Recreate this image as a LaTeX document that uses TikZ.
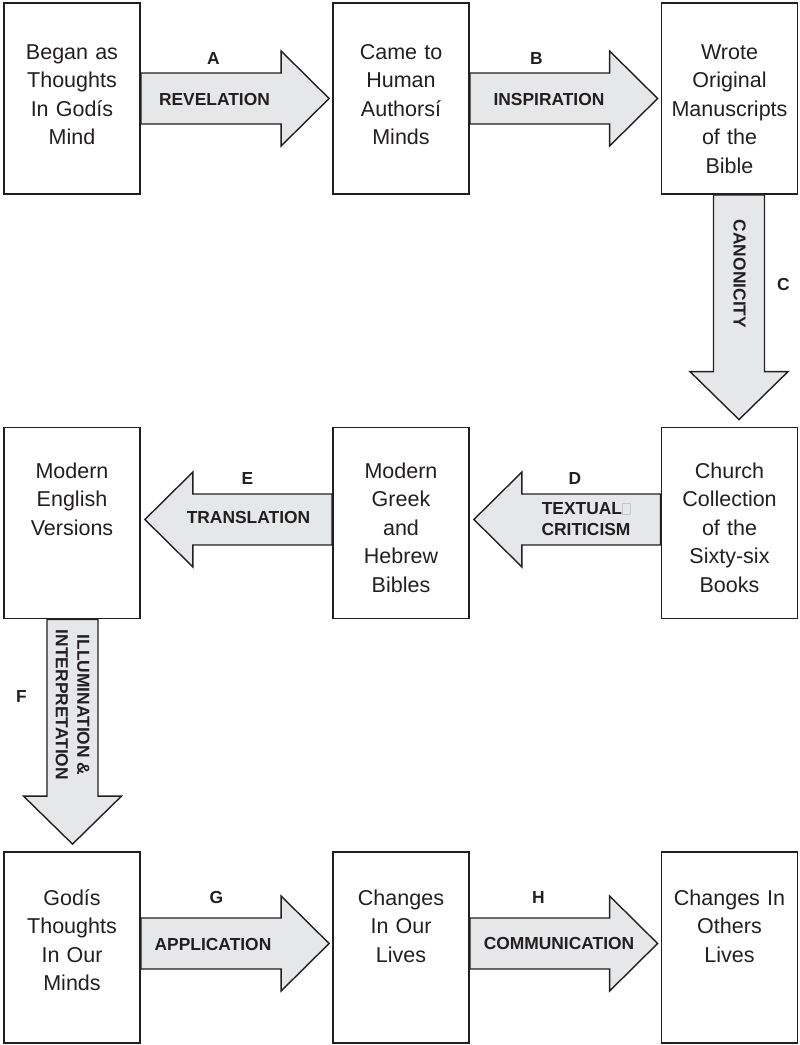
\documentclass[tikz,border=0pt]{standalone}
\usepackage{fontspec}
\setmainfont{Liberation Sans}
\usetikzlibrary{calc,backgrounds}
\definecolor{inkdark}{RGB}{35,31,32}
\definecolor{arrowfill}{RGB}{230,231,232}
\definecolor{glyphgray}{RGB}{200,200,200}

% block arrows between two boxes, optional shift of the arrow axis
\newcommand{\rightblock}[3][0]{%
  \draw[blockarrow] let \p1=($(#2.east)+(0,#1)$), \p2=(#3.west) in
    (\x1,\y1+25.5pt) -- (\x2-51pt,\y1+25.5pt) -- (\x2-51pt,\y1+47.5pt) -- (\x2-3pt,\y1)
    -- (\x2-51pt,\y1-47.5pt) -- (\x2-51pt,\y1-25.5pt) -- (\x1,\y1-25.5pt) -- cycle;}
\newcommand{\leftblock}[3][0]{%
  \draw[blockarrow] let \p1=($(#2.west)+(0,#1)$), \p2=(#3.east) in
    (\x1,\y1+25.5pt) -- (\x2+52pt,\y1+25.5pt) -- (\x2+52pt,\y1+47.5pt) -- (\x2+4pt,\y1)
    -- (\x2+52pt,\y1-47.5pt) -- (\x2+52pt,\y1-25.5pt) -- (\x1,\y1-25.5pt) -- cycle;}
\newcommand{\downblock}[3][0]{%
  \draw[blockarrow] let \p1=($(#2.south)+(#1,0)$), \p2=(#3.north) in
    (\x1-25.5pt,\y1) -- (\x1-25.5pt,\y2+55pt) -- (\x1-49pt,\y2+55pt) -- (\x1,\y2+7pt)
    -- (\x1+49pt,\y2+55pt) -- (\x1+25.5pt,\y2+55pt) -- (\x1+25.5pt,\y1) -- cycle;}

\begin{document}
\begin{tikzpicture}[x=1pt,y=-1pt,every node/.style={text=inkdark},
    box/.style={draw=inkdark,line width=1.8pt,fill=white,minimum width=136pt,minimum height=191pt,inner sep=0pt,text width=130pt,align=center,font=\fontsize{21.5}{28.5}\selectfont,text height=16pt,text depth=#1},
    box/.default=101pt,
    blockarrow/.style={draw=inkdark,fill=arrowfill,line width=1.4pt,line join=miter},
    tag/.style={font=\fontsize{17.4}{21}\selectfont\bfseries},
    stagename/.style={font=\fontsize{17.4}{21.5}\selectfont\bfseries,align=center}]
  \useasboundingbox (0,0) rectangle (800,1045);

  % boxes
  \node[box=95pt] (godsmind) at (72,98.5) {Began as\\Thoughts\\In Godís\\Mind};
  \node[box=95pt] (authors) at (401,98.5) {Came to\\Human\\Authorsí\\Minds};
  \node[box=95pt] (originals) at (729.5,98.5) {Wrote\\Original\\Manuscripts\\of the\\Bible};
  \node[box=106pt] (collection) at (729.5,523) {Church\\Collection\\of the\\Sixty-six\\Books};
  \node[box=106pt] (greekhebrew) at (401,523) {Modern\\Greek\\and\\Hebrew\\Bibles};
  \node[box=106pt] (english) at (72,523) {Modern\\English\\Versions};
  \node[box] (ourminds) at (72,947.5) {Godís\\Thoughts\\In Our\\Minds};
  \node[box] (ourlives) at (401,947.5) {Changes\\In Our\\Lives};
  \node[box] (otherlives) at (729.5,947.5) {Changes In\\Others\\Lives};

  % arrows
  \begin{scope}[on background layer]
    \rightblock{godsmind}{authors}
    \rightblock{authors}{originals}
    \downblock[9.5]{originals}{collection}
    \leftblock[-3.5]{collection}{greekhebrew}
    \leftblock[-3.5]{greekhebrew}{english}
    \downblock[0.5]{english}{ourminds}
    \rightblock[-4]{ourminds}{ourlives}
    \rightblock[-4]{ourlives}{otherlives}
  \end{scope}

  % letters
  \node[tag] (tagA) at (213.5,59) {A};
  \node[tag] (tagB) at (536.5,59) {B};
  \node[tag] (tagC) at (783.5,285) {C};
  \node[tag] (tagD) at (575,478.5) {D};
  \node[tag] (tagE) at (247.5,478.5) {E};
  \node[tag] (tagF) at (21.5,697) {F};
  \node[tag] (tagG) at (216.5,897) {G};
  \node[tag] (tagH) at (538.5,897.5) {H};

  % names on the arrows
  \node[stagename] (revelation) at (214.5,99.5) {REVELATION};
  \node[stagename] (inspiration) at (549,99.5) {INSPIRATION};
  \node[stagename,rotate=-90] (canonicity) at (739.5,274) {CANONICITY};
  \node[stagename] (criticism) at (586,519) {TEXTUAL{\color{glyphgray}\fboxsep=0pt\fboxrule=0.6pt\fbox{\rule{0pt}{11pt}\hspace{7pt}}}\\CRITICISM};
  \node[stagename] (translation) at (248.5,517.5) {TRANSLATION};
  \node[stagename,rotate=-90] (illumination) at (72.5,705) {ILLUMINATION \&\\INTERPRETATION};
  \node[stagename] (application) at (213,944) {APPLICATION};
  \node[stagename] (communication) at (559,943.5) {COMMUNICATION};
\end{tikzpicture}
\end{document}
